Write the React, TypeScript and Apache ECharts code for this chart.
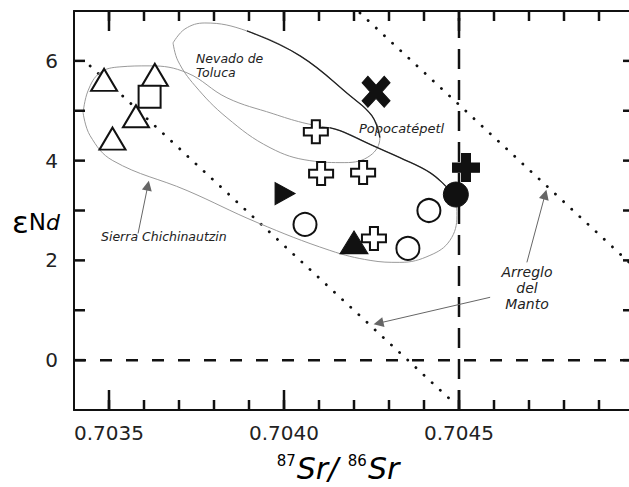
import React, { useEffect, useRef } from 'react';
import * as echarts from 'echarts';

// ---------- data ----------
const xMajorTicks = [0.7035, 0.704, 0.7045];
const xMinorTicks = [
  0.7035, 0.7036, 0.7037, 0.7038, 0.7039, 0.704, 0.7041, 0.7042,
  0.7043, 0.7044, 0.7045, 0.7046, 0.7047, 0.7048, 0.7049,
];
const yTicks = [0, 1, 2, 3, 4, 5, 6];
const yLabelTicks = [0, 2, 4, 6];

const openTriangles = [
  [0.703486, 5.62],
  [0.703631, 5.72],
  [0.703577, 4.89],
  [0.70351, 4.44],
];
const openSquares = [[0.703616, 5.28]];
const openCrosses = [
  [0.704091, 4.58],
  [0.704106, 3.74],
  [0.704226, 3.76],
  [0.704257, 2.44],
];
const openCircles = [
  [0.70406, 2.72],
  [0.704414, 3.0],
  [0.704354, 2.24],
];
const filledRightTriangles = [[0.704003, 3.34]];
const filledTriangles = [[0.7042, 2.36]];
const filledXs = [[0.704263, 5.38]];
const filledPluses = [[0.70452, 3.86]];
const filledBlobs = [[0.704491, 3.32]];

// field outlines (data units)
const nevadoOutline = [
  [0.703683, 6.36], [0.703717, 6.64], [0.703774, 6.76], [0.703894, 6.6],
  [0.704046, 6.1], [0.704189, 5.3], [0.704251, 4.9], [0.704274, 4.46],
  [0.704246, 4.1], [0.704174, 3.96], [0.704074, 4.0], [0.70396, 4.26],
  [0.703837, 4.86], [0.703746, 5.5], [0.703697, 6.0], [0.703683, 6.36],
];
const nevadoDark = [
  [0.703894, 6.6], [0.704046, 6.1], [0.704189, 5.3], [0.704251, 4.9], [0.704274, 4.46],
];
const sierraOutline = [
  [0.703426, 4.96], [0.70344, 5.4], [0.703474, 5.76], [0.703531, 5.88],
  [0.703617, 5.9], [0.703723, 5.76], [0.703837, 5.26], [0.703969, 4.94],
  [0.704054, 4.76], [0.70416, 4.6], [0.704254, 4.3], [0.704331, 4.06],
  [0.704417, 3.76], [0.704466, 3.46], [0.704491, 3.2], [0.704494, 2.9],
  [0.704474, 2.4], [0.704417, 2.1], [0.704331, 1.96], [0.704246, 2.0],
  [0.704131, 2.2], [0.703923, 2.76], [0.703723, 3.4], [0.703511, 4.0],
  [0.703446, 4.5], [0.703426, 4.96],
];
const popoDark = [
  [0.70413, 4.66], [0.70416, 4.6], [0.704254, 4.3], [0.704331, 4.06],
  [0.704417, 3.76], [0.704466, 3.46],
];

// mantle array (parallel dotted lines)
const mantleLineA = [[0.703446, 5.9], [0.704486, -0.86]];
const mantleLineB = [[0.704217, 6.96], [0.705, 1.87]];

// reference lines
const zeroLine = [[0.7034, 0], [0.705, 0]];
const bulkEarthLine = [[0.7045, -1], [0.7045, 7]];

// annotation arrows [from, to]
const arrows = [
  [[0.703583, 2.54], [0.703611, 3.5]],
  [[0.704694, 1.96], [0.704746, 3.32]],
  [[0.704589, 1.26], [0.70427, 0.74]],
];

const X_MIN = 0.7034;
const X_MAX = 0.705;
const Y_MIN = -1;
const Y_MAX = 7;

const FONT = 'DejaVu Sans';
const PLUS = 'path://M8,0H16V8H24V16H16V24H8V16H0V8H8Z';
const XSHAPE = 'path://M0,5L5,0L12,7L19,0L24,5L17,12L24,19L19,24L12,17L5,24L0,19L7,12Z';

export default function App() {
  const ref = useRef<HTMLDivElement>(null);
  useEffect(() => {
    if (!ref.current) return;
    const chart = echarts.init(ref.current, null, { renderer: 'svg' });
    const axisColor = '#111';
    const xBase: any = {
      type: 'value', min: X_MIN, max: X_MAX,
      splitLine: { show: false },
    };
    const lineSeries = (data: any, color: string, width: number, type: any, smooth: any = false, extra: any = {}) => ({
      type: 'line', data, symbol: 'none', smooth, silent: true,
      lineStyle: { color, width, type, ...extra }, z: 1,
    });
    // ticks drawn as thin filled bars anchored on the axes
    const tickBars = (data: any, size: number[], offset: number[]) => ({
      type: 'scatter', data, symbol: 'rect', symbolSize: size, symbolOffset: offset,
      silent: true, clip: false, z: 2,
      itemStyle: { color: axisColor, borderWidth: 0, opacity: 1 },
    });
    const markerSeries = (data: any, symbol: string, size: any, filled: boolean, extra: any = {}) => ({
      type: 'scatter', data, symbol, symbolSize: size, z: 5,
      itemStyle: filled
        ? { color: '#111', borderColor: '#111', borderWidth: 1, opacity: 1 }
        : { color: '#fff', borderColor: '#111', borderWidth: 2, opacity: 1 },
      ...extra,
    });
    chart.setOption({
      animation: false,
      backgroundColor: '#fff',
      grid: { left: 74, right: 6, top: 11, bottom: 77 },
      xAxis: [
        { ...xBase, position: 'bottom',
          axisLine: { show: true, onZero: false, lineStyle: { color: axisColor, width: 2 } },
          axisTick: { show: false },
          axisLabel: { show: true, customValues: xMajorTicks, formatter: (v: number) => v.toFixed(4), fontSize: 20, fontFamily: FONT, color: '#222', margin: 13 } },
        { ...xBase, position: 'top',
          axisLine: { show: true, onZero: false, lineStyle: { color: axisColor, width: 2 } },
          axisTick: { show: false },
          axisLabel: { show: false } },
      ],
      yAxis: [
        { type: 'value', min: Y_MIN, max: Y_MAX, interval: 1, position: 'left',
          splitLine: { show: false },
          axisLine: { show: true, onZero: false, lineStyle: { color: axisColor, width: 2 } },
          axisTick: { show: false },
          axisLabel: { show: true, customValues: yLabelTicks, fontSize: 20, fontFamily: FONT, color: '#222', margin: 16 } },
        { type: 'value', min: Y_MIN, max: Y_MAX, interval: 1, position: 'right',
          splitLine: { show: false },
          axisLine: { show: true, onZero: false, lineStyle: { color: axisColor, width: 2 } },
          axisTick: { show: false },
          axisLabel: { show: false } },
      ],
      series: [
        tickBars(xMinorTicks.map((v) => [v, Y_MIN]), [2.5, 10], [0, -5]),
        tickBars(xMinorTicks.map((v) => [v, Y_MAX]), [2.5, 10], [0, 5]),
        tickBars(xMajorTicks.map((v) => [v, Y_MIN]), [2.5, 20], [0, -10]),
        tickBars(xMajorTicks.map((v) => [v, Y_MAX]), [2.5, 20], [0, 10]),
        tickBars(yTicks.map((v) => [X_MIN, v]), [11, 2.5], [5.5, 0]),
        tickBars(yTicks.map((v) => [X_MAX, v]), [11, 2.5], [-5.5, 0]),
        lineSeries(zeroLine, '#111', 2.5, [12, 14]),
        lineSeries(bulkEarthLine, '#111', 2.5, [20, 11]),
        lineSeries(mantleLineA, '#111', 2.8, [0.1, 11], false, { cap: 'round' }),
        lineSeries(mantleLineB, '#111', 2.8, [0.1, 11], false, { cap: 'round' }),
        lineSeries(nevadoOutline, '#9a9a9a', 1, 'solid', 0.4),
        lineSeries(nevadoDark, '#222', 1.3, 'solid', 0.4),
        lineSeries(sierraOutline, '#9a9a9a', 1, 'solid', 0.4),
        lineSeries(popoDark, '#222', 1.3, 'solid', 0.4),
        {
          type: 'lines', coordinateSystem: 'cartesian2d', silent: true, z: 3,
          symbol: ['none', 'triangle'], symbolSize: [0, 10],
          lineStyle: { color: '#666', width: 1, opacity: 1 },
          itemStyle: { color: '#111' },
          data: arrows.map((a) => ({ coords: a })),
        },
        markerSeries(openTriangles, 'triangle', [26, 22], false),
        markerSeries(openSquares, 'rect', [22, 22], false),
        markerSeries(openCrosses, PLUS, [24, 23], false),
        markerSeries(openCircles, 'circle', 23, false),
        markerSeries(filledRightTriangles, 'triangle', [22, 20], true, { symbolRotate: -90 }),
        markerSeries(filledTriangles, 'triangle', [28, 23], true),
        markerSeries(filledXs, XSHAPE, [28, 31], true),
        markerSeries(filledPluses, PLUS, [27, 28], true),
        markerSeries(filledBlobs, 'circle', 25, true),
      ],
      graphic: [
        { type: 'text', x: 196, y: 51, style: { text: 'Nevado de\nToluca', font: `italic 12.5px "${FONT}"`, fill: '#222', lineHeight: 14 } },
        { type: 'text', x: 359, y: 122, style: { text: 'Popocatépetl', font: `italic 13px "${FONT}"`, fill: '#222' } },
        { type: 'text', x: 101, y: 230, style: { text: 'Sierra Chichinautzin', font: `italic 12.5px "${FONT}"`, fill: '#222' } },
        { type: 'text', x: 527, y: 264, style: { text: 'Arreglo\ndel\nManto', font: `italic 14px "${FONT}"`, fill: '#222', align: 'center', lineHeight: 16 } },
        { type: 'text', x: 12, y: 222, style: {
          text: '{e|ε}{n|N}{d|d}', verticalAlign: 'middle',
          rich: {
            e: { fontSize: 31, fontFamily: FONT, color: '#111' },
            n: { fontSize: 23, fontFamily: FONT, color: '#111' },
            d: { fontSize: 22, fontFamily: FONT, fontStyle: 'italic', color: '#111' },
          } } },
        { type: 'text', x: 338, y: 468, style: {
          text: '{sup|87}{sr|Sr/ }{sup|86}{sr|Sr}', align: 'center', verticalAlign: 'middle',
          rich: {
            sup: { fontSize: 15, fontFamily: FONT, color: '#111', verticalAlign: 'top', padding: [0, 1, 12, 0] },
            sr: { fontSize: 30, fontFamily: FONT, fontStyle: 'italic', color: '#111' },
          } } },
      ],
    });
    return () => chart.dispose();
  }, []);
  return (
    <div style={{ position: 'fixed', left: 0, top: 0, width: 629, height: 487, overflow: 'hidden', background: '#fff' }}>
      <div ref={ref} style={{ width: 640, height: 487 }} />
    </div>
  );
}
